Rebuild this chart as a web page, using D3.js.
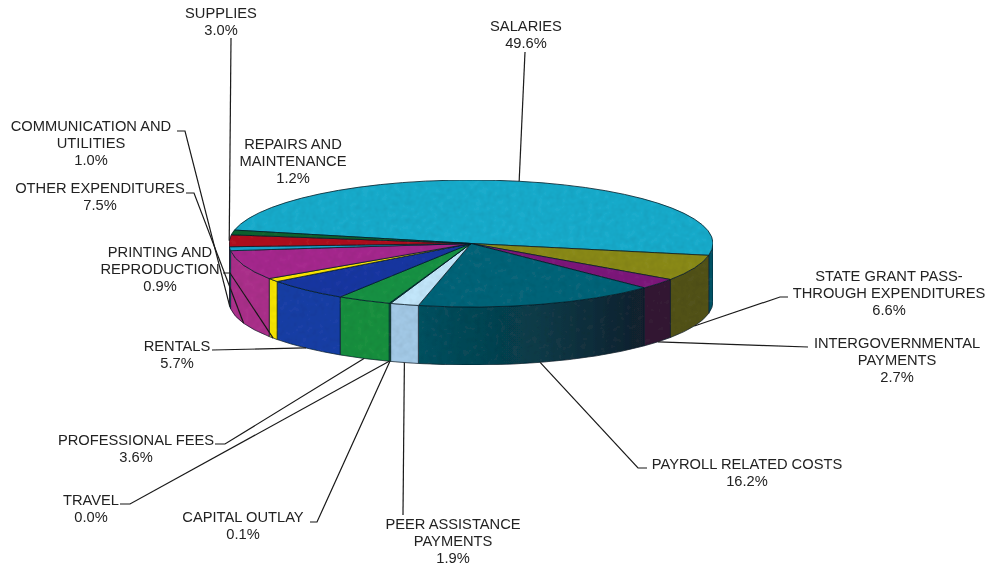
<!DOCTYPE html>
<html>
<head>
<meta charset="utf-8">
<script src="https://cdn.jsdelivr.net/npm/d3@7"></script>
<style>
  html, body { margin: 0; padding: 0; background: #fff; }
  text { font-family: "Liberation Sans", Arial, sans-serif; font-size: 14.7px; fill: #222; }
</style>
</head>
<body>
<div id="chart"></div>
<script>
// values, clockwise from the back left
var categories = ["SALARIES", "STATE GRANT PASS-THROUGH EXPENDITURES", "INTERGOVERNMENTAL PAYMENTS",
  "PAYROLL RELATED COSTS", "PEER ASSISTANCE PAYMENTS", "CAPITAL OUTLAY", "TRAVEL", "PROFESSIONAL FEES",
  "RENTALS", "PRINTING AND REPRODUCTION", "OTHER EXPENDITURES", "COMMUNICATION AND UTILITIES",
  "SUPPLIES", "REPAIRS AND MAINTENANCE"];
var percents = [49.6, 6.6, 2.7, 16.2, 1.9, 0.1, 0.0, 3.6, 5.7, 0.9, 7.5, 1.0, 3.0, 1.2];
var labelLines = [
  ["SALARIES"], ["STATE GRANT PASS-", "THROUGH EXPENDITURES"], ["INTERGOVERNMENTAL", "PAYMENTS"],
  ["PAYROLL RELATED COSTS"], ["PEER ASSISTANCE", "PAYMENTS"], ["CAPITAL OUTLAY"], ["TRAVEL"],
  ["PROFESSIONAL FEES"], ["RENTALS"], ["PRINTING AND", "REPRODUCTION"], ["OTHER EXPENDITURES"],
  ["COMMUNICATION AND", "UTILITIES"], ["SUPPLIES"], ["REPAIRS AND", "MAINTENANCE"]
];

// colours, one per slice
var topColors = ["#1faccc", "#8a8a1a", "#7e1f7c", "#0c6579", "#c2e6fa", "#0c7a4a", "#555555", "#1a9245",
  "#1b38a2", "#fbe60f", "#a62c8e", "#1ca3cc", "#b01420", "#146430"];
var sideColors = ["#0e5468", "#53531f", "#361c35", "url(#payrollSide)", "#a3c9e6", "#0c7a4a", "#555555", "#1a9041",
  "#1a41a6", "#f7e500", "#ab308b", "#1ca3cc", "#b01420", "#146430"];

// layout: label centre x, first baseline y, and the leader's free end + elbow
var labelX = [526, 889, 897, 747, 453, 243, 91, 136, 177, 160, 100, 91, 221, 293];
var labelY = [31, 281, 348, 469, 529, 522, 505, 445, 351, 257, 193, 131, 18, 149];
var leaderFrom = [[525, 52], [788, 297], [808, 347], [647, 468], [403, 515], [310, 522], [120, 504],
  [215, 444], [212, 350], [223, 273], [186, 193], [177, 131], [231, 38], null];
var leaderElbow = [null, [780, 297], null, [638, 468], null, [317, 522], [130, 504],
  [225, 444], null, [230, 273], [194, 193], [185, 131], null, null];

var width = 988, height = 566;
var cx = 471, cy = 243.5, rx = 242, ry = 63.5, depth = 58;
var lineH = 17.2;
var startDeg = -77.8;   // d3 angle of the start of the first slice

var svg = d3.select("#chart").append("svg")
  .attr("width", width).attr("height", height)
  .style("display", "block");

var defs = svg.append("defs");
var grad = defs.append("linearGradient").attr("id", "payrollSide");
grad.append("stop").attr("offset", "0%").attr("stop-color", "#0d5261");
grad.append("stop").attr("offset", "55%").attr("stop-color", "#133b48");
grad.append("stop").attr("offset", "100%").attr("stop-color", "#1a2430");

// scanned look: slight softening, faint dark mottling on the colour areas
var soft = defs.append("filter").attr("id", "soft");
soft.append("feGaussianBlur").attr("stdDeviation", 0.45);
var mot = defs.append("filter").attr("id", "mottle")
  .attr("x", "0").attr("y", "0").attr("width", "100%").attr("height", "100%");
mot.append("feTurbulence").attr("type", "fractalNoise").attr("baseFrequency", 0.16)
  .attr("numOctaves", 2).attr("seed", 4).attr("result", "n");
mot.append("feColorMatrix").attr("in", "n").attr("type", "matrix")
  .attr("values", "0 0 0 0 0  0 0 0 0 0  0 0 0 0 0  0.22 0 0 0 -0.07").attr("result", "w");
mot.append("feComposite").attr("in", "w").attr("in2", "SourceAlpha").attr("operator", "in").attr("result", "wc");
mot.append("feMerge").selectAll("feMergeNode").data(["SourceGraphic", "wc"]).enter()
  .append("feMergeNode").attr("in", String);

var pie = d3.pie().sort(null).value(function(d) { return d; })
  .startAngle(startDeg * Math.PI / 180)
  .endAngle((startDeg + 360) * Math.PI / 180);
var slices = pie(percents);

// d3 angle -> point on the top ellipse
function px(a) { return cx + rx * Math.sin(a); }
function py(a) { return cy - ry * Math.cos(a); }

// front wall only exists for angles PI/2..3PI/2 (mod 2PI)
function wallPath(d) {
  var a0 = Math.max(d.startAngle, Math.PI / 2);
  var a1 = Math.min(d.endAngle, 3 * Math.PI / 2);
  if (a1 <= a0) return null;
  return "M" + px(a0) + "," + py(a0)
    + "A" + rx + "," + ry + " 0 0 1 " + px(a1) + "," + py(a1)
    + "L" + px(a1) + "," + (py(a1) + depth)
    + "A" + rx + "," + ry + " 0 0 0 " + px(a0) + "," + (py(a0) + depth) + "Z";
}

function topPath(d) {
  var large = d.endAngle - d.startAngle > Math.PI ? 1 : 0;
  return "M" + cx + "," + cy + "L" + px(d.startAngle) + "," + py(d.startAngle)
    + "A" + rx + "," + ry + " 0 " + large + " 1 " + px(d.endAngle) + "," + py(d.endAngle) + "Z";
}

var pieG = svg.append("g").attr("filter", "url(#soft)");
var colored = pieG.append("g").attr("filter", "url(#mottle)");

colored.selectAll("path.wall")
  .data(slices.filter(function(d) { return wallPath(d) !== null && d.value > 0; }))
  .enter().append("path").attr("class", "wall")
  .attr("d", wallPath)
  .attr("fill", function(d) { return sideColors[d.index]; })
  .attr("stroke", "#14202a").attr("stroke-width", 0.7);

colored.selectAll("path.top")
  .data(slices.filter(function(d) { return d.value > 0; }))
  .enter().append("path").attr("class", "top")
  .attr("d", topPath)
  .attr("fill", function(d) { return topColors[d.index]; })
  .attr("stroke", "#10222c").attr("stroke-width", 0.8).attr("stroke-linejoin", "round");

// leaders run to the middle of each slice's rim: bottom edge in front, top edge at the back
function leaderEnd(d) {
  var a = (d.startAngle + d.endAngle) / 2;
  var front = -Math.cos(a) > 0.04;
  return [px(a), py(a) + (front ? depth : 0)];
}

var line = d3.line();
var textG = svg.append("g").attr("filter", "url(#soft)");

textG.selectAll("path.leader")
  .data(slices.filter(function(d) { return leaderFrom[d.index]; }))
  .enter().append("path").attr("class", "leader")
  .attr("d", function(d) {
    var pts = [leaderFrom[d.index]];
    if (leaderElbow[d.index]) pts.push(leaderElbow[d.index]);
    pts.push(leaderEnd(d));
    return line(pts);
  })
  .attr("fill", "none").attr("stroke", "#1a1a1a").attr("stroke-width", 1.2);

var labels = textG.selectAll("text.label")
  .data(slices)
  .enter().append("text").attr("class", "label")
  .attr("text-anchor", "middle")
  .attr("y", function(d) { return labelY[d.index]; });

labels.selectAll("tspan")
  .data(function(d) {
    return labelLines[d.index].concat([percents[d.index].toFixed(1) + "%"])
      .map(function(t) { return { t: t, x: labelX[d.index] }; });
  })
  .enter().append("tspan")
  .attr("x", function(l) { return l.x; })
  .attr("dy", function(l, i) { return i === 0 ? 0 : lineH; })
  .text(function(l) { return l.t; });
</script>
</body>
</html>
